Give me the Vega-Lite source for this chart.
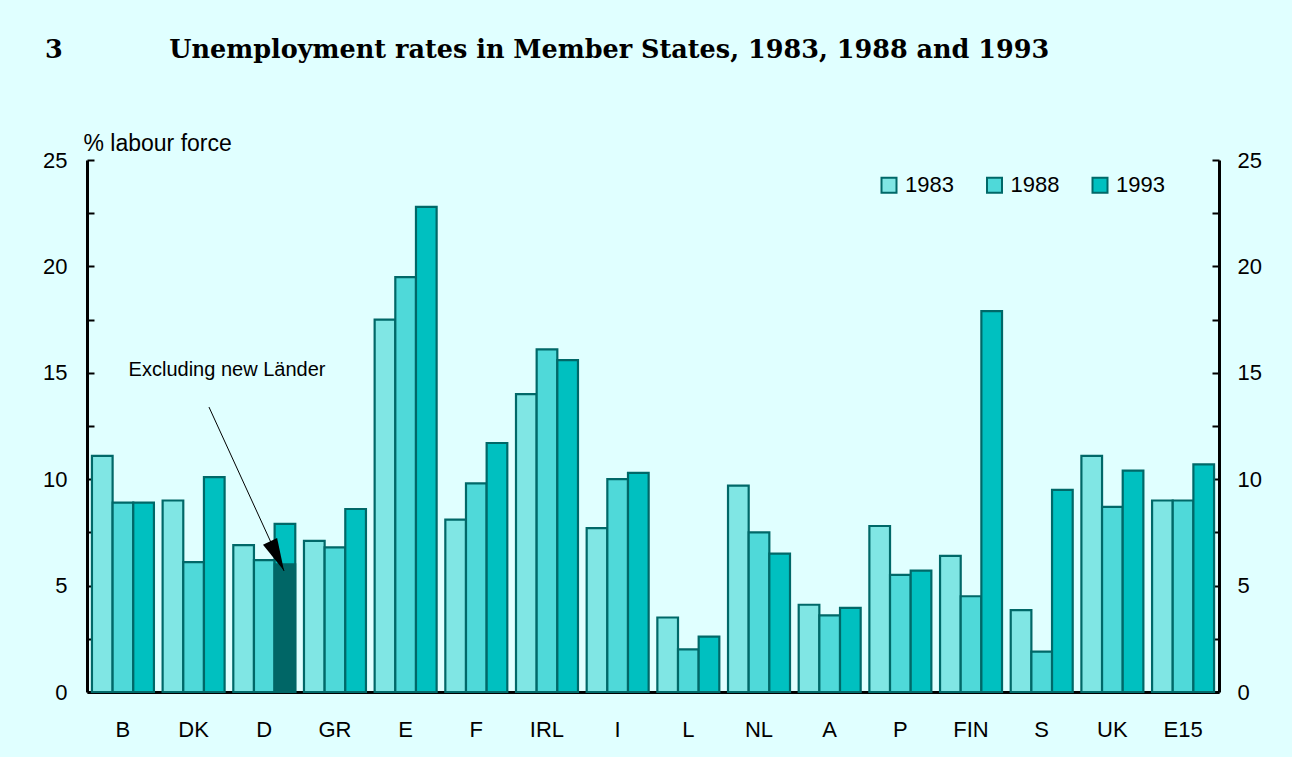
{
  "$schema": "https://vega.github.io/schema/vega-lite/v6.json",
  "autosize": {"type": "none"},
  "padding": {"left": 87, "top": 160, "right": 73, "bottom": 65},
  "width": 1132,
  "height": 532,
  "background": "#E0FFFF",
  "config": {"view": {"stroke": null}, "font": "Liberation Sans"},
  "title": {
    "text": "3\u00a0\u00a0\u00a0\u00a0\u00a0\u00a0\u00a0\u00a0\u00a0\u00a0\u00a0\u00a0Unemployment rates in Member States, 1983, 1988 and 1993",
    "anchor": "start",
    "frame": "group",
    "dx": -42,
    "offset": 49,
    "font": "DejaVu Serif",
    "fontSize": 25.5,
    "fontWeight": "bold",
    "color": "black",
    "baseline": "alphabetic"
  },
  "data": {
    "values": [
      {"country": "B", "year": "1983", "value": 11.1},
      {"country": "B", "year": "1988", "value": 8.9},
      {"country": "B", "year": "1993", "value": 8.9},
      {"country": "DK", "year": "1983", "value": 9.0},
      {"country": "DK", "year": "1988", "value": 6.1},
      {"country": "DK", "year": "1993", "value": 10.1},
      {"country": "D", "year": "1983", "value": 6.9},
      {"country": "D", "year": "1988", "value": 6.2},
      {"country": "D", "year": "1993", "value": 7.9},
      {"country": "GR", "year": "1983", "value": 7.1},
      {"country": "GR", "year": "1988", "value": 6.8},
      {"country": "GR", "year": "1993", "value": 8.6},
      {"country": "E", "year": "1983", "value": 17.5},
      {"country": "E", "year": "1988", "value": 19.5},
      {"country": "E", "year": "1993", "value": 22.8},
      {"country": "F", "year": "1983", "value": 8.1},
      {"country": "F", "year": "1988", "value": 9.8},
      {"country": "F", "year": "1993", "value": 11.7},
      {"country": "IRL", "year": "1983", "value": 14.0},
      {"country": "IRL", "year": "1988", "value": 16.1},
      {"country": "IRL", "year": "1993", "value": 15.6},
      {"country": "I", "year": "1983", "value": 7.7},
      {"country": "I", "year": "1988", "value": 10.0},
      {"country": "I", "year": "1993", "value": 10.3},
      {"country": "L", "year": "1983", "value": 3.5},
      {"country": "L", "year": "1988", "value": 2.0},
      {"country": "L", "year": "1993", "value": 2.6},
      {"country": "NL", "year": "1983", "value": 9.7},
      {"country": "NL", "year": "1988", "value": 7.5},
      {"country": "NL", "year": "1993", "value": 6.5},
      {"country": "A", "year": "1983", "value": 4.1},
      {"country": "A", "year": "1988", "value": 3.6},
      {"country": "A", "year": "1993", "value": 3.95},
      {"country": "P", "year": "1983", "value": 7.8},
      {"country": "P", "year": "1988", "value": 5.5},
      {"country": "P", "year": "1993", "value": 5.7},
      {"country": "FIN", "year": "1983", "value": 6.4},
      {"country": "FIN", "year": "1988", "value": 4.5},
      {"country": "FIN", "year": "1993", "value": 17.9},
      {"country": "S", "year": "1983", "value": 3.85},
      {"country": "S", "year": "1988", "value": 1.9},
      {"country": "S", "year": "1993", "value": 9.5},
      {"country": "UK", "year": "1983", "value": 11.1},
      {"country": "UK", "year": "1988", "value": 8.7},
      {"country": "UK", "year": "1993", "value": 10.4},
      {"country": "E15", "year": "1983", "value": 9.0},
      {"country": "E15", "year": "1988", "value": 9.0},
      {"country": "E15", "year": "1993", "value": 10.7}
    ]
  },
  "layer": [
    {
      "mark": {"type": "bar", "stroke": "#006868", "strokeWidth": 2.2},
      "encoding": {
        "x": {
          "field": "country", "type": "nominal", "sort": null,
          "scale": {"domain": ["B","DK","D","GR","E","F","IRL","I","L","NL","A","P","FIN","S","UK","E15"], "paddingInner": 0.123, "paddingOuter": 0.07},
          "axis": {"title": null, "ticks": false, "labelPadding": 27, "labelFontSize": 22, "labelColor": "black", "labelAngle": 0, "domainColor": "black", "domainWidth": 3}
        },
        "xOffset": {"field": "year", "type": "nominal", "scale": {"domain": ["1983","1988","1993"], "paddingInner": 0, "paddingOuter": 0}},
        "y": {
          "field": "value", "type": "quantitative",
          "scale": {"domain": [0, 25], "nice": false, "zero": true},
          "axis": {
            "orient": "left", "grid": false,
            "values": [0, 2.5, 5, 7.5, 10, 12.5, 15, 17.5, 20, 22.5, 25],
            "labelExpr": "datum.value % 5 === 0 ? datum.label : ''",
            "labelOverlap": false,
            "tickSize": -7, "tickWidth": 2, "tickColor": "black",
            "domainColor": "black", "domainWidth": 3,
            "labelFontSize": 22, "labelColor": "black", "labelPadding": 27,
            "title": "% labour force", "titleAngle": 0, "titleAlign": "left", "titleBaseline": "alphabetic",
            "titleX": -4, "titleY": -10, "titleFontSize": 23, "titleFontWeight": "normal", "titleColor": "black", "titleFont": "Liberation Sans"
          }
        },
        "fill": {
          "field": "year", "type": "nominal",
          "scale": {"domain": ["1983","1988","1993"], "range": ["#80E6E4","#4FD9D9","#00C0C0"]},
          "legend": {
            "orient": "none", "legendX": 791, "legendY": 14, "direction": "horizontal", "title": null,
            "symbolType": "square", "symbolSize": 225, "symbolStrokeColor": "#006868", "symbolStrokeWidth": 2,
            "labelFontSize": 22, "labelColor": "black", "labelOffset": 5, "columnPadding": 28.5, "padding": 0
          }
        }
      }
    },
    {
      "data": {"values": [{"country": "D", "year": "1993", "excl": 6.0}]},
      "mark": {"type": "bar", "fill": "#006666", "stroke": "#006666", "strokeWidth": 2},
      "encoding": {
        "x": {"field": "country", "type": "nominal", "scale": {"domain": ["B","DK","D","GR","E","F","IRL","I","L","NL","A","P","FIN","S","UK","E15"], "paddingInner": 0.123, "paddingOuter": 0.07}, "axis": null},
        "xOffset": {"field": "year", "type": "nominal", "scale": {"domain": ["1983","1988","1993"], "paddingInner": 0, "paddingOuter": 0}},
        "y": {"field": "excl", "type": "quantitative", "axis": null}
      }
    },
    {
      "mark": {"type": "tick", "opacity": 0},
      "encoding": {
        "y": {
          "field": "value", "type": "quantitative",
          "axis": {
            "orient": "right", "grid": false, "title": null,
            "values": [0, 2.5, 5, 7.5, 10, 12.5, 15, 17.5, 20, 22.5, 25],
            "labelExpr": "datum.value % 5 === 0 ? datum.label : ''",
            "labelOverlap": false,
            "tickSize": -7, "tickWidth": 2, "tickColor": "black",
            "domainColor": "black", "domainWidth": 3,
            "labelFontSize": 22, "labelColor": "black", "labelPadding": 25
          }
        }
      }
    },
    {
      "data": {"values": [{"label": "Excluding new Länder", "gx": 1.979, "gy": 15.13}]},
      "mark": {"type": "text", "fontSize": 20, "color": "black", "align": "center", "baseline": "middle", "font": "Liberation Sans"},
      "encoding": {
        "x": {"field": "gx", "type": "quantitative", "scale": {"domain": [0, 16], "nice": false, "zero": false}, "axis": null},
        "y": {"field": "gy", "type": "quantitative", "axis": null},
        "text": {"field": "label"}
      }
    },
    {
      "data": {"values": [{"gx": 1.724, "gy": 13.39, "gx2": 2.785, "gy2": 5.69}]},
      "mark": {"type": "rule", "color": "black", "strokeWidth": 1},
      "encoding": {
        "x": {"field": "gx", "type": "quantitative", "scale": {"domain": [0, 16], "nice": false, "zero": false}, "axis": null},
        "x2": {"field": "gx2"},
        "y": {"field": "gy", "type": "quantitative", "axis": null},
        "y2": {"field": "gy2"}
      }
    },
    {
      "data": {"values": [{"gx": 2.686, "gy": 6.39}]},
      "mark": {"type": "point", "shape": "M-0.48,-1L0.48,-1L0,1Z", "filled": true, "color": "black", "opacity": 1, "size": 1060, "angle": 334.6},
      "encoding": {
        "x": {"field": "gx", "type": "quantitative", "scale": {"domain": [0, 16], "nice": false, "zero": false}, "axis": null},
        "y": {"field": "gy", "type": "quantitative", "axis": null}
      }
    }
  ],
  "resolve": {"scale": {"x": "independent"}, "axis": {"y": "independent"}}
}
